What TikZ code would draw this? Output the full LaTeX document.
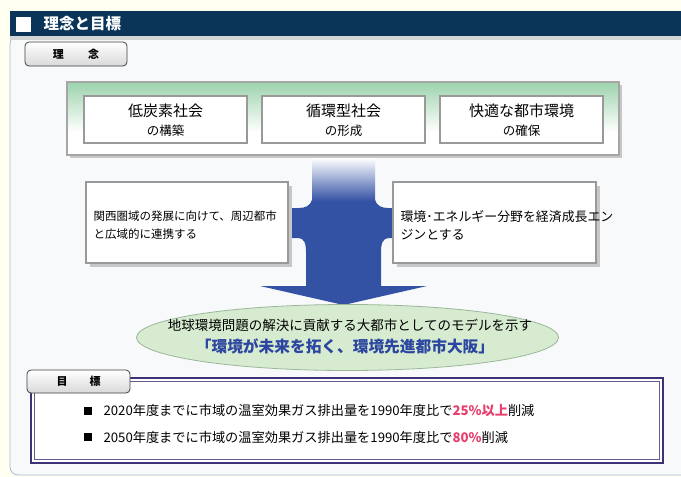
\documentclass[tikz,border=0pt]{standalone}
\usepackage{fontspec}
\setmainfont{Noto Sans CJK JP}
\usetikzlibrary{shapes.geometric}
\definecolor{bgcream}{HTML}{FFFFF2}
\definecolor{titlebar}{HTML}{0B3459}
\definecolor{stripgrey}{HTML}{D3D5D5}
\definecolor{panelcol}{HTML}{F8F9FA}
\definecolor{panelborder}{HTML}{A9BCCB}
\definecolor{visgreen}{HTML}{9CD3AC}
\definecolor{arrowblue}{HTML}{3352A4}
\definecolor{ellfill}{HTML}{D6EBCF}
\definecolor{ellborder}{HTML}{9AB79A}
\definecolor{slogan}{HTML}{2B45A0}
\definecolor{goalborder}{HTML}{3D3278}
\definecolor{goalred}{HTML}{E83E6C}
\tikzset{
  tabbox/.style={draw=black!75, line width=0.8pt, rounded corners=4pt,
    top color=white, bottom color=black!15, inner sep=0pt,
    font=\bfseries\fontsize{11}{13}\selectfont},
  whitebox/.style={draw=black!40, line width=1.2pt, fill=white, inner sep=0pt},
  shadowbox/.style={fill=black!22},
  boxtitle/.style={font=\fontsize{15}{17}\selectfont},
  boxsub/.style={font=\fontsize{12.5}{14}\selectfont},
  sidetext/.style={anchor=west, align=left},
  goaltext/.style={anchor=west, font=\fontsize{13.2}{15}\selectfont},
  bulletsq/.style={fill=black, minimum size=8pt, inner sep=0pt},
}
\begin{document}
\begin{tikzpicture}[x=1pt,y=-1pt]
\useasboundingbox (0,0) rectangle (681,477);
\fill[bgcream] (0,0) rectangle (681,477);
% panel
\draw[draw=panelborder, fill=panelcol, line width=0.8pt, rounded corners=8pt] (10,36) rectangle (700,475);
% title bar
\fill[titlebar] (10,11) rectangle (681,36);
\fill[stripgrey] (10,36) rectangle (681,40);
\fill[white] (16,17) rectangle (31,32);
\node[anchor=west, text=white, font=\bfseries\fontsize{15.5}{17}\selectfont] (title) at (40,24) {理念と目標};
% vision tab
\node[tabbox, minimum width=102pt, minimum height=24pt] (tabvision) at (76,54) {理\hspace{2.2em}念};
% vision box
\fill[shadowbox] (70,85) rectangle (622,158);
\fill[white] (67,82) rectangle (619,155);
\shade[top color=visgreen, bottom color=white] (67,82) rectangle (619,132);
\node[draw=black!35, line width=1.2pt, minimum width=552pt, minimum height=73pt, inner sep=0pt] (vision) at (343,118.5) {};
\node[whitebox, minimum width=163pt, minimum height=47pt] (v1) at (165.5,119.5) {};
\node[whitebox, minimum width=163pt, minimum height=47pt] (v2) at (343.5,119.5) {};
\node[whitebox, minimum width=163pt, minimum height=47pt] (v3) at (521.5,119.5) {};
\node[boxtitle] (v1a) at (165.5,111) {低炭素社会};
\node[boxsub] (v1b) at (165.5,131) {の構築};
\node[boxtitle] (v2a) at (343.5,111) {循環型社会};
\node[boxsub] (v2b) at (343.5,131) {の形成};
\node[boxtitle] (v3a) at (521.5,111) {快適な都市環境};
\node[boxsub] (v3b) at (521.5,131) {の確保};
% big arrow
\fill[arrowblue] (312,200) -- (375,200)
  .. controls (377,206) and (382,208) .. (388,208) -- (396,208) -- (396,238) -- (389,238)
  .. controls (383,238) and (381,243) .. (381,252) -- (381,286) -- (427,286) -- (343.5,305)
  -- (260,286) -- (306,286) -- (306,252)
  .. controls (306,243) and (304,238) .. (298,238) -- (284,238) -- (284,208) -- (299,208)
  .. controls (305,208) and (310,206) .. (312,200) -- cycle;
\shade[top color=white, bottom color=arrowblue] (312,158) rectangle (375,201);
\coordinate (arrowtip) at (343.5,305);
% side boxes
\fill[shadowbox] (90,186) rectangle (292,267);
\node[whitebox, minimum width=202pt, minimum height=81pt] (left) at (187,222.5) {};
\node[sidetext, font=\fontsize{11.5}{18}\selectfont] (lefttext) at (90,225) {関西圏域の発展に向けて、周辺都市\\と広域的に連携する};
\fill[shadowbox] (397,186) rectangle (600,267);
\node[whitebox, minimum width=203pt, minimum height=81pt] (right) at (494.5,222.5) {};
\node[sidetext, font=\fontsize{12.9}{18}\selectfont] (righttext) at (397,225) {環境･エネルギー分野を経済成長エン\\ジンとする};
% ellipse
\node[ellipse, draw=ellborder, fill=ellfill, line width=0.8pt, minimum width=422pt, minimum height=66pt, inner sep=0pt] (goal) at (347.5,337.5) {};
\node[font=\fontsize{13.5}{15}\selectfont] (goal1) at (350,325) {地球環境問題の解決に貢献する大都市としてのモデルを示す};
\node[font=\bfseries\fontsize{15.7}{17}\selectfont, text=slogan] (goal2) at (345,346) {「環境が未来を拓く、環境先進都市大阪」};
% targets box
\fill[white] (31,378) rectangle (663,463);
\draw[goalborder, line width=2pt] (31,378) rectangle (663,463);
\draw[goalborder!80, line width=0.9pt] (34.5,381.5) rectangle (659.5,459.5);
\node[tabbox, minimum width=103pt, minimum height=23pt] (tabtarget) at (78.5,381.5) {目\hspace{2em}標};
\node[bulletsq] (b1) at (88,411) {};
\node[goaltext] (t1) at (100,411) {2020年度までに市域の温室効果ガス排出量を1990年度比で{\bfseries\color{goalred}25\%以上}削減};
\node[bulletsq] (b2) at (88,437) {};
\node[goaltext] (t2) at (100,437) {2050年度までに市域の温室効果ガス排出量を1990年度比で{\bfseries\color{goalred}80\%}削減};
\end{tikzpicture}
\end{document}
